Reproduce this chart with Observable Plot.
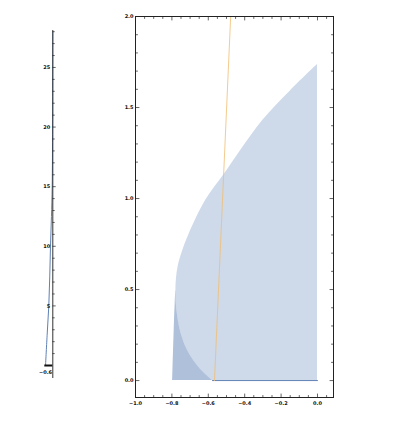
<!DOCTYPE html>
<html><head><meta charset="utf-8">
<script src="https://cdn.jsdelivr.net/npm/d3@7"></script>
<script src="https://cdn.jsdelivr.net/npm/@observablehq/plot@0.6"></script>
<style>
body{margin:0;background:#fff}
#c{position:relative;width:408px;height:421px;overflow:hidden}
#c svg{position:absolute;top:0}
</style>
</head><body><div id="c"></div>
<script>
// ---- right panel data ----
const curveX = [-0.577,-0.65,-0.714,-0.75,-0.768,-0.776,-0.778,-0.775,-0.765,-0.745,-0.705,-0.614,-0.517,-0.422,-0.30,-0.15,0];
const curveY = [0,0.07,0.165,0.26,0.35,0.42,0.49,0.56,0.63,0.70,0.805,0.99,1.126,1.264,1.43,1.59,1.736];
const darkY  = [0,0.07,0.165,0.26,0.35,0.42,0.49];
const darkX1 = [-0.796,-0.794,-0.791,-0.788,-0.785,-0.782,-0.779];
const darkX2 = [-0.577,-0.65,-0.714,-0.75,-0.768,-0.776,-0.778];
const orangeX = [-0.566,-0.477];
const orangeY = [0,2.0];
const baseX = [-0.577,0];
const baseY = [0,0];
const xTicks = [-1.0,-0.8,-0.6,-0.4,-0.2,0.0];
const yTicks = [0.0,0.5,1.0,1.5,2.0];
// ---- left panel data ----
const leftX = [-0.6,-0.47,-0.33,-0.25,-0.19,-0.11,-0.05,-0.015,-0.004,0];
const leftY = [0,2.5,5,7.5,10,12.5,15,20,25,28];
const leftTicks = [5,10,15,20,25];
const leftXTicks = [-0.6];

const blue = "#5e81b5";
const tickShape = {draw(ctx, l){ ctx.moveTo(0,0); ctx.lineTo(0,-l); }};
const font = {fontFamily:"DejaVu Sans", fontSize:"5px", fontWeight:"bold", background:"transparent", overflow:"visible"};

const light = curveY.map((y,i)=>({x:curveX[i], y}));
const dark = darkY.map((y,i)=>({x1:darkX1[i], x2:darkX2[i], y}));
const orange = orangeY.map((y,i)=>({x:orangeX[i], y}));
const base = baseY.map((y,i)=>({x:baseX[i], y}));

const xMinor = d3.range(-1.0, 0.0501, 0.05).filter(v=>!xTicks.some(t=>Math.abs(t-v)<1e-6));
const yMinor = d3.range(0, 2.0001, 0.1).filter(v=>!yTicks.some(t=>Math.abs(t-v)<1e-6));

function ticks(vals, axis, anchor, rot, len) {
  const o = {frameAnchor:anchor, rotate:rot, length:len, anchor:"start", shape:tickShape, stroke:"#222", strokeWidth:0.7};
  o[axis] = d=>d;
  return Plot.vector(vals, o);
}

const right = Plot.plot({
  width:308, height:421,
  marginLeft:35, marginRight:75, marginTop:16, marginBottom:24,
  style:font,
  x:{domain:[-1.0,0.088]},
  y:{domain:[-0.093,2.0]},
  marks:[
    Plot.areaX(light, {y:"y", x1:"x", x2:0, fill:blue, fillOpacity:0.3, curve:"catmull-rom"}),
    Plot.areaX(dark, {y:"y", x1:"x1", x2:"x2", fill:blue, fillOpacity:0.5, curve:"catmull-rom"}),
    Plot.line(base, {x:"x", y:"y", stroke:blue, strokeWidth:1}),
    Plot.line(orange, {x:"x", y:"y", stroke:"#f0be72", strokeWidth:0.8}),
    Plot.frame({stroke:"#222", strokeWidth:1}),
    ticks(xTicks,"x","bottom",0,3.5), ticks(xMinor,"x","bottom",0,2),
    ticks(xTicks,"x","top",180,3.5), ticks(xMinor,"x","top",180,2),
    ticks(yTicks,"y","left",90,3.5), ticks(yMinor,"y","left",90,2),
    ticks(yTicks,"y","right",-90,3.5), ticks(yMinor,"y","right",-90,2),
    Plot.axisX(xTicks, {tickSize:0, tickPadding:4, tickFormat:d3.format(".1f"), label:null, fill:"#111"}),
    Plot.axisY(yTicks, {tickSize:0, tickPadding:2, tickFormat:d3.format(".1f"), label:null, fill:"#111"})
  ]
});
right.style.left = "100px";

const lMinor = d3.range(1, 28.01, 1).filter(v=>v%5!==0);
const left = Plot.plot({
  width:60, height:421,
  marginLeft:44.3, marginRight:7.7, marginTop:30, marginBottom:43,
  style:font,
  x:{domain:[-0.66,0], axis:null},
  y:{domain:[-1.09,28.1], axis:null},
  marks:[
    Plot.line(leftY.map((y,i)=>({x:leftX[i], y})), {x:"x", y:"y", stroke:blue, strokeWidth:1, curve:"catmull-rom"}),
    Plot.ruleX([0], {stroke:"#333", strokeWidth:1}),
    Plot.ruleY([0], {stroke:"#111", strokeWidth:2}),
    Plot.vector(leftTicks, {x:0, y:d=>d, rotate:90, length:2.5, anchor:"start", shape:tickShape, stroke:"#222", strokeWidth:0.7}),
    Plot.vector(lMinor, {x:0, y:d=>d, rotate:90, length:1.5, anchor:"start", shape:tickShape, stroke:"#222", strokeWidth:0.7}),
    Plot.text(leftTicks, {x:0, y:d=>d, text:d=>String(d), textAnchor:"end", dx:-2.5, fill:"#111"}),
    Plot.text(leftXTicks, {x:d=>d, y:0, text:d=>d3.format(".1f")(d), dy:7, fill:"#111"})
  ]
});
left.style.left = "0px";

document.getElementById("c").append(left, right);
</script></body></html>
